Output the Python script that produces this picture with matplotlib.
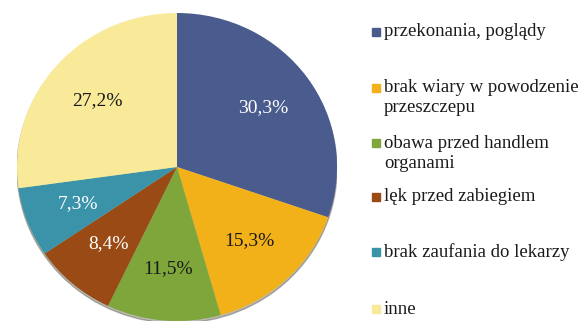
import matplotlib.pyplot as plt
from matplotlib.patches import Ellipse, Rectangle

# Reasons for refusing organ donation (%)
labels = ["przekonania, poglądy",
          "brak wiary w powodzenie\nprzeszczepu",
          "obawa przed handlem\norganami",
          "lęk przed zabiegiem",
          "brak zaufania do lekarzy",
          "inne"]
values = [30.3, 15.3, 11.5, 8.4, 7.3, 27.2]
colors = ["#4A5C8E", "#F2B118", "#7EA63A", "#9A4A14", "#3A93A8", "#F8EA98"]
text_colors = ["white", "#1a1a1a", "#1a1a1a", "white", "white", "#1a1a1a"]

plt.rcParams['font.family'] = ['Liberation Serif', 'DejaVu Serif']

W, H = 584, 326
fig = plt.figure(figsize=(W / 100, H / 100), dpi=100)

# pie is slightly wider than tall
cx, cy, rx, ry = 177, 167, 160, 154
ax = fig.add_axes([(cx - rx) / W, (H - cy - ry) / H, 2 * rx / W, 2 * ry / H])

# soft drop shadow under the pie
ax.add_patch(Ellipse((0.0, -0.015), 2.0, 2.0, color="#3a3a2a", alpha=0.35, zorder=0))

wedges, texts, autotexts = ax.pie(values, colors=colors, startangle=90, counterclock=False,
                                  autopct=lambda p: f"{p:.1f}%".replace(".", ","),
                                  pctdistance=0.66, radius=1.0,
                                  wedgeprops=dict(linewidth=0))
for w in wedges:
    w.set_zorder(1)
for t, c in zip(autotexts, text_colors):
    t.set_color(c)
    t.set_fontsize(14)
ax.set_aspect('auto')
ax.set_xlim(-1, 1)
ax.set_ylim(-1, 1)
ax.axis('off')

# legend drawn by hand: square on the first line of each entry
rows_y = [32, 88, 143, 197, 252, 309]
line_h = 20
for lab, col, y in zip(labels, colors, rows_y):
    fig.patches.append(Rectangle((372 / W, 1 - (y + 4) / H), 8 / W, 8 / H,
                                 transform=fig.transFigure, color=col))
    for i, part in enumerate(lab.split("\n")):
        fig.text(384 / W, 1 - (y + i * line_h) / H, part, fontsize=13.5,
                 va='center', ha='left', color="#1a1a1a")

fig.savefig("out.png", dpi=100)
